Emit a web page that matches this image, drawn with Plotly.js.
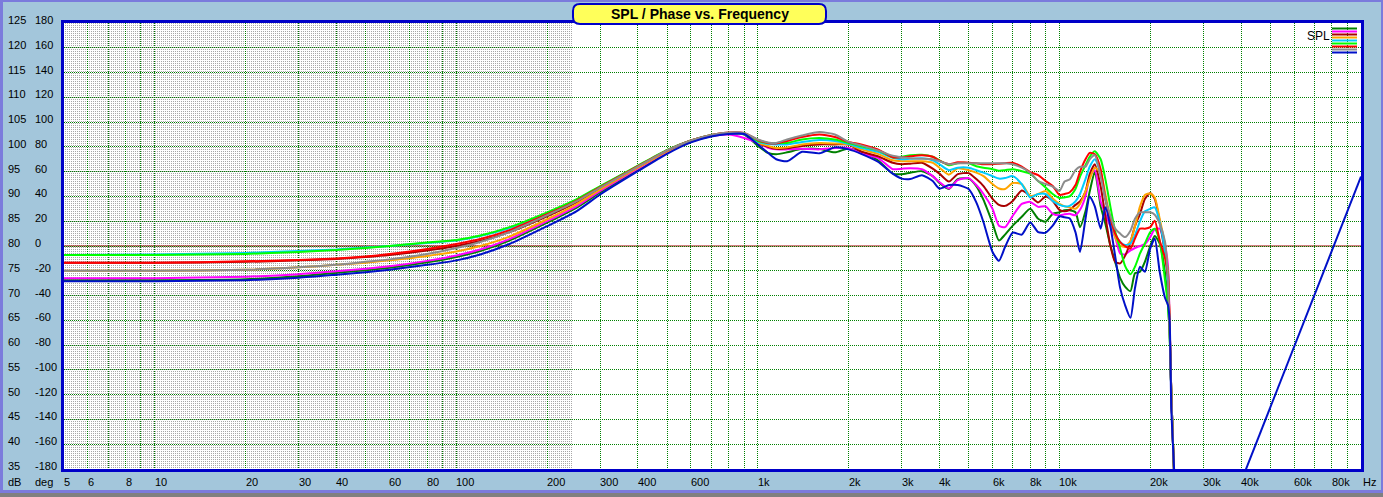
<!DOCTYPE html>
<html><head><meta charset="utf-8">
<script src="https://cdn.plot.ly/plotly-3.0.1.min.js"></script>
<style>
html,body{margin:0;padding:0;background:#A3C6DB;width:1383px;height:497px;overflow:hidden;}
#wrap{position:relative;width:1383px;height:497px;}
#plotbg{position:absolute;left:64px;top:23px;width:1297px;height:446px;background:#fff;}
#dense{position:absolute;left:64px;top:23px;width:509px;height:446px;background-image:conic-gradient(#a8a8a8 25%, transparent 0);background-size:2px 2px;}
#chart{position:absolute;left:0;top:0;width:1383px;height:497px;}
.bd{position:absolute;}
</style></head>
<body><div id="wrap">
<div id="plotbg"></div><div id="dense"></div>
<div id="chart"></div>
<div class="bd" style="left:0;top:0;width:1383px;height:2px;background:#7B7BDC"></div>
<div class="bd" style="left:0;top:0;width:3px;height:497px;background:#7B7BDC"></div>
<div class="bd" style="left:1381px;top:0;width:2px;height:497px;background:#7B7BDC"></div>
<div class="bd" style="left:0;top:490px;width:1383px;height:3px;background:#7B7BDC"></div>
<div class="bd" style="left:0;top:493px;width:1383px;height:4px;background:#808080"></div>
</div>
<script>
// ---------------- data ----------------
const freq = [5,10,20,30,40,50,60,80,100,120,150,200,250,300,400,500,600,700,800,900,
 1000,1080,1150,1250,1400,1600,1800,2000,2200,2500,2800,3000,3200,3500,3800,4000,4300,4600,
 5000,5300,5600,6000,6300,6600,7000,7500,8000,8500,9000,9500,
 10000,10400,10800,11300,11700,12200,12600,13100,13700,14200,14750,15300,15900,16500,17200,17800,18500,19200,20000,
 20700,21500,22400,22900,23200,23500,24000,24500];

const splDarkGreen = [73.1,73.1,73.3,73.9,74.6,75.1,75.6,76.7,77.8,79.0,81.1,84.7,87.7,90.8,95.4,98.8,101.0,102.2,102.7,102.5,
 100.2,98.8,98.5,98.9,99.6,99.6,98.9,99.7,99.0,97.3,94.6,94.5,94.8,95.1,94.1,92.7,91.5,93.5,
 93.6,92.1,89.3,84.6,81.1,82.3,84.1,85.9,87.5,85.5,84.9,86.5,
 86.8,87.2,87.2,86.8,83.8,87.0,91.0,95.0,88.0,84.5,80.1,76.8,73.5,71.8,70.9,74.5,74.8,76.8,80.0,
 82.0,80.5,74.5,68.1,62.0,50.0,34.0,20.0];
const splMagenta = [73.5,73.5,73.8,74.3,74.9,75.4,75.9,77.0,78.1,79.3,81.4,85.0,88.0,91.1,95.6,99.0,101.1,102.2,102.5,101.8,
 100.8,99.8,99.5,99.5,99.6,99.5,99.8,99.8,98.7,97.8,95.5,95.6,95.7,95.5,94.1,92.9,91.6,93.3,
 93.7,92.3,90.5,87.5,84.1,83.8,86.1,88.5,88.9,87.9,88.0,86.5,
 86.2,86.4,86.5,86.2,87.3,90.0,94.0,95.3,89.0,86.5,84.0,81.8,78.5,78.3,79.1,79.6,80.0,80.4,81.8,
 83.4,83.5,80.0,76.1,64.0,50.0,34.0,20.0];
const splDarkRed = [76.6,76.6,76.8,77.1,77.4,77.8,78.2,79.1,80.0,81.0,82.8,86.0,88.8,91.6,95.9,99.2,101.3,102.3,102.8,102.6,
 100.8,100.0,99.6,99.7,100.2,100.5,100.5,100.5,99.1,98.1,96.8,96.5,96.6,96.8,95.6,94.6,93.0,94.5,
 94.7,93.5,92.1,89.5,88.3,88.1,89.1,91.2,90.1,88.8,90.0,89.1,
 87.3,87.0,87.3,88.3,89.0,91.0,94.5,96.5,92.0,86.0,80.1,76.8,76.5,78.0,80.8,84.0,86.5,89.5,90.7,
 89.5,85.0,78.5,74.8,64.0,50.0,34.0,20.0];
const splOrange = [75.0,75.0,75.2,75.7,76.2,76.6,77.1,78.0,78.9,80.0,81.9,85.4,88.4,91.4,95.8,99.1,101.2,102.3,102.8,102.6,
 100.8,100.2,99.8,99.9,100.5,100.8,100.7,100.5,99.5,98.6,97.3,97.1,97.1,97.1,96.8,95.8,94.4,95.7,
 95.3,94.8,94.1,92.5,91.6,91.5,92.7,92.5,90.1,90.5,91.1,89.6,
 88.5,88.0,87.8,87.5,88.5,91.0,93.5,95.8,94.8,90.5,85.5,81.8,80.1,79.8,81.0,84.0,88.0,90.3,90.6,
 89.8,85.5,80.1,74.1,64.0,50.0,34.0,20.0];
const splCyan = [78.2,78.3,78.6,79.0,79.3,79.7,80.0,80.6,81.1,82.0,83.6,86.6,89.3,92.0,96.1,99.3,101.2,102.3,102.7,102.6,
 101.0,100.6,100.5,100.5,101.0,101.4,101.2,100.6,99.8,99.0,97.8,97.5,97.6,97.7,97.3,96.5,95.3,95.8,
 95.8,95.3,94.8,94.1,93.6,93.7,94.1,92.5,89.8,90.5,90.5,89.1,
 88.3,88.0,88.1,89.0,90.5,93.5,96.0,97.5,94.8,89.5,84.8,82.5,80.8,80.2,80.5,82.2,85.0,87.0,87.5,
 87.8,84.8,78.5,72.0,63.0,50.0,34.0,20.0];
const splLime = [78.2,78.2,78.4,78.8,79.2,79.6,80.0,80.7,81.2,82.1,83.8,86.8,89.4,92.1,96.2,99.4,101.3,102.4,102.8,102.7,
 101.2,100.8,100.8,100.8,101.5,101.8,101.5,100.8,100.1,99.3,97.9,98.0,98.3,98.4,98.0,97.3,96.3,96.7,
 96.7,96.1,95.8,95.5,95.2,95.3,95.5,95.1,94.6,93.1,91.8,90.5,
 89.7,89.8,90.0,91.5,94.0,96.3,98.0,99.1,97.5,93.5,88.0,83.0,79.5,76.0,74.3,75.8,78.5,80.5,82.8,
 83.5,81.0,73.0,68.0,62.0,50.0,34.0,20.0];
const splRed = [76.6,76.6,76.9,77.2,77.5,77.9,78.4,79.4,80.4,81.4,83.2,86.4,89.1,91.9,96.1,99.3,101.3,102.4,102.9,102.8,
 101.4,100.8,100.7,101.2,102.0,102.5,102.0,101.0,100.5,99.5,97.9,97.9,98.1,98.3,98.0,97.2,96.5,96.9,
 96.8,96.7,96.5,96.5,96.6,96.7,96.8,96.0,94.9,94.3,93.1,92.1,
 90.3,90.5,90.8,92.3,95.0,97.5,98.8,98.5,95.5,89.5,85.5,82.5,80.8,80.0,79.5,81.5,83.5,83.5,83.8,
 85.1,81.1,77.5,73.5,64.0,50.0,34.0,20.0];
const splGray = [75.0,75.0,75.2,75.7,76.2,76.8,77.3,78.4,79.6,80.8,82.8,86.2,89.0,91.8,96.0,99.3,101.3,102.4,102.9,102.8,
 101.5,100.9,100.8,101.5,102.3,103.0,102.5,101.0,100.3,99.3,98.2,97.9,97.7,97.6,97.5,97.1,96.5,96.7,
 96.7,96.7,96.7,96.7,96.7,96.7,96.5,95.8,94.8,93.1,92.5,92.0,
 91.1,93.0,93.4,95.3,96.0,96.0,97.5,98.3,94.0,89.5,86.1,83.5,82.5,81.8,83.1,85.5,86.8,86.8,86.8,
 86.3,84.5,80.8,73.5,63.0,50.0,34.0,20.0];
const splBlue = [72.9,72.9,73.1,73.6,74.2,74.7,75.2,76.2,77.1,78.3,80.4,84.0,87.0,90.4,95.1,98.6,100.9,102.1,102.6,102.6,
 100.5,98.8,97.5,97.1,99.0,98.7,99.9,99.5,98.6,97.0,94.6,93.6,93.5,94.3,93.1,91.6,92.3,92.3,
 91.5,88.8,84.8,78.8,77.0,79.8,82.7,82.3,84.8,82.8,82.7,84.1,
 86.0,85.8,85.6,82.8,78.8,85.5,90.0,88.0,83.5,87.8,84.0,78.0,71.5,68.1,65.5,71.5,75.8,74.8,79.5,
 81.5,74.8,69.5,68.1,64.8,46.8,35.0,20.0];
const blueTailFreq = [40000, 100000];
const blueTailSpl = [32.4, 94.0];

const seriesNames  = ['darkgreen','magenta','darkred','orange','cyan','lime','red','gray','blue'];
const seriesColors = ['#008000','#FF00FF','#A80000','#FFA500','#00CCFF','#00FF00','#FF0000','#8C8C8C','#0010C8'];
const seriesValues = [splDarkGreen,splMagenta,splDarkRed,splOrange,splCyan,splLime,splRed,splGray,splBlue];

const xTickVals = [5,6,8,10,20,30,40,60,80,100,200,300,400,600,1000,2000,3000,4000,6000,8000,10000,20000,30000,40000,60000,80000];
const xTickText = ['5','6','8','10','20','30','40','60','80','100','200','300','400','600','1k','2k','3k','4k','6k','8k','10k','20k','30k','40k','60k','80k'];
const dbTicks  = [35,40,45,50,55,60,65,70,75,80,85,90,95,100,105,110,115,120,125];
const degTicks = [-180,-160,-140,-120,-100,-80,-60,-40,-20,0,20,40,60,80,100,120,140,160,180];

// ---------------- layout helpers ----------------
const L = 64, R = 22, T = 23, B = 28, W = 1383, H = 497;
const PW = W - L - R, PH = H - T - B;
const PX = px => (px - L) / PW;
const PY = py => (H - B - py) / PH;
const FONT = 'Liberation Sans, Arial, sans-serif';

// vertical grid at every 1..9 multiple
const gridFreqs = [];
[1,10,100,1000,10000].forEach(d => { for (let k = 1; k <= 9; k++) { const f = k*d; if (f >= 5 && f <= 100000) gridFreqs.push(f); } });
gridFreqs.push(100000);

const traces = seriesValues.map((v, i) => ({
  type: 'scatter', mode: 'lines', x: freq, y: v, name: seriesNames[i],
  line: {color: seriesColors[i], width: 2, shape: 'spline', smoothing: 0.6},
  hoverinfo: 'skip'
}));
traces.push({type:'scatter', mode:'lines', x: blueTailFreq, y: blueTailSpl, name:'blue tail',
  line:{color: seriesColors[8], width: 2}, hoverinfo:'skip'});

const annotations = [];
xTickVals.forEach((f, i) => annotations.push({
  xref:'x', yref:'paper', x: Math.log10(f), y: 0, xanchor:'left', yanchor:'middle', yshift: -13, xshift: -1,
  text: xTickText[i], showarrow:false, borderpad:0, font:{family:FONT, size:11, color:'#000'}
}));
dbTicks.forEach((v, i) => {
  annotations.push({xref:'paper', yref:'y', x: PX(7), y: v, xanchor:'left', yanchor:'middle', yshift: 3,
    text: String(v), showarrow:false, borderpad:0, font:{family:FONT, size:11, color:'#000'}});
  annotations.push({xref:'paper', yref:'y', x: PX(34), y: v, xanchor:'left', yanchor:'middle', yshift: 3,
    text: String(degTicks[i]), showarrow:false, borderpad:0, font:{family:FONT, size:11, color:'#000'}});
});
[['dB',7],['deg',34],['Hz',1362]].forEach(([t, px]) => annotations.push({
  xref:'paper', yref:'paper', x: PX(px), y: 0, xanchor:'left', yanchor:'middle', yshift: -13,
  text: t, showarrow:false, borderpad:0, font:{family:FONT, size:11, color:'#000'}
}));
annotations.push({xref:'paper', yref:'paper', x: PX(699.5), y: PY(14), xanchor:'center', yanchor:'middle',
  text:'<b>SPL / Phase vs. Frequency</b>', showarrow:false, font:{family:FONT, size:14, color:'#000'}});
annotations.push({xref:'paper', yref:'paper', x: PX(1306), y: PY(36), xanchor:'left', yanchor:'middle',
  text:'SPL', showarrow:false, borderpad:0, font:{family:FONT, size:12, color:'#000'}});

const shapes = [];
shapes.push({type:'line', xref:'paper', yref:'y', x0:0, x1:1, y0:80, y1:80, layer:'between',
  line:{color:'#A00000', width:1}});
// legend swatches
seriesColors.forEach((c, i) => shapes.push({type:'line', xref:'paper', yref:'paper',
  x0: PX(1332), x1: PX(1357), y0: PY(28.5 + 3*i), y1: PY(28.5 + 3*i), layer:'above',
  line:{color:c, width:2}}));
// title box (rounded)
(function(){
  const x0=573, x1=826, y0=4, y1=24, r=7;
  const p = (x,y) => PX(x).toFixed(5) + ',' + PY(y).toFixed(5);
  const path = 'M' + p(x0+r,y0) + ' L' + p(x1-r,y0) + ' Q' + p(x1,y0) + ' ' + p(x1,y0+r) +
    ' L' + p(x1,y1-r) + ' Q' + p(x1,y1) + ' ' + p(x1-r,y1) + ' L' + p(x0+r,y1) +
    ' Q' + p(x0,y1) + ' ' + p(x0,y1-r) + ' L' + p(x0,y0+r) + ' Q' + p(x0,y0) + ' ' + p(x0+r,y0) + ' Z';
  shapes.push({type:'path', xref:'paper', yref:'paper', path: path, layer:'above',
    fillcolor:'#FFFF5A', line:{color:'#0000C8', width:2}});
})();

const layout = {
  width: W, height: H,
  margin: {l:L, r:R, t:T, b:B, pad:0},
  paper_bgcolor:'rgba(0,0,0,0)', plot_bgcolor:'rgba(0,0,0,0)',
  showlegend:false,
  font:{family:FONT, size:11, color:'#000'},
  xaxis:{type:'log', range:[Math.log10(5), 5], tickmode:'array', tickvals: gridFreqs, showticklabels:false, ticks:'',
    showgrid:true, gridcolor:'#008000', griddash:'1px,1px', gridwidth:1,
    showline:true, mirror:true, linecolor:'#0000C8', linewidth:3, zeroline:false, fixedrange:true},
  yaxis:{range:[35,125], tick0:35, dtick:5, showticklabels:false, ticks:'',
    showgrid:true, gridcolor:'#008000', griddash:'1px,1px', gridwidth:1,
    showline:true, mirror:true, linecolor:'#0000C8', linewidth:3, zeroline:false, fixedrange:true},
  shapes: shapes,
  annotations: annotations
};

Plotly.newPlot('chart', traces, layout, {staticPlot:true, displayModeBar:false});
</script>
</body></html>
